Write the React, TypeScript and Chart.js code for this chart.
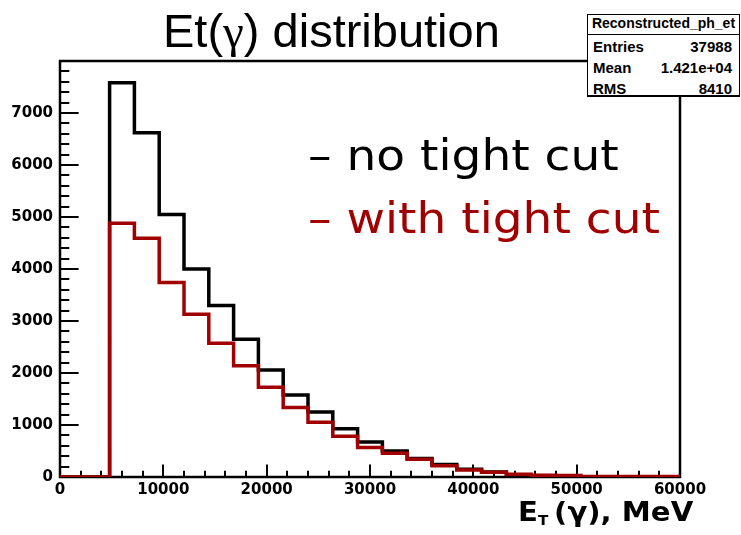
import React, { useEffect, useRef } from 'react';
import { Chart, registerables } from 'chart.js';

Chart.register(...registerables);

// ---- data ----
const binStarts = [0, 2400, 4800, 7200, 9600, 12000, 14400, 16800, 19200, 21600, 24000, 26400, 28800, 31200, 33600, 36000, 38400, 40800, 43200, 45600, 48000, 50400, 52800, 55200, 57600];
const xEnd = 60000;
const noTightCut = [0, 0, 7580, 6620, 5050, 4000, 3300, 2650, 2060, 1575, 1250, 930, 675, 500, 355, 240, 150, 95, 45, 20, 12, 0, 0, 0, 0];
const withTightCut = [0, 0, 4880, 4590, 3740, 3130, 2570, 2140, 1725, 1335, 1055, 785, 565, 455, 340, 215, 135, 90, 55, 35, 30, 12, 10, 10, 8];
const xTickLabels = [0, 10000, 20000, 30000, 40000, 50000, 60000];
const yTickLabels = [0, 1000, 2000, 3000, 4000, 5000, 6000, 7000];
const X_MIN = 0, X_MAX = 60000, Y_MIN = 0, Y_MAX = 8000;
const X_MINOR = 2000, X_MAJOR = 10000, Y_MINOR = 200, Y_MAJOR = 1000;
const titleText = ['Et(', 'γ', ') distribution'];
const legendLabels = ['– no tight cut', '– with tight cut'];
const statsName = 'Reconstructed_ph_et';
const statsRows = [['Entries', '37988'], ['Mean', '1.421e+04'], ['RMS', '8410']];

const BLACK = '#000000';
const RED = '#a00000';

function histPoints(vals: number[]) {
  const pts = binStarts.map((x, i) => ({ x, y: vals[i] }));
  pts.push({ x: xEnd, y: vals[vals.length - 1] });
  return pts;
}

const framePlugin = {
  id: 'rootFrame',
  beforeDatasetsDraw(chart: any) {
    const { ctx, chartArea: a, scales } = chart;
    const x = scales.x, y = scales.y;
    ctx.save();
    ctx.strokeStyle = '#000';
    ctx.lineWidth = 2;
    const yMajorLen = (a.right - a.left) * 0.03;
    const xMajorLen = (a.bottom - a.top) * 0.03;
    ctx.beginPath();
    for (let v = Y_MIN; v <= Y_MAX; v += Y_MINOR) {
      const py = Math.round(y.getPixelForValue(v));
      const len = v % Y_MAJOR === 0 ? yMajorLen : yMajorLen / 2;
      ctx.moveTo(a.left, py);
      ctx.lineTo(a.left + len, py);
    }
    for (let v = X_MIN; v <= X_MAX; v += X_MINOR) {
      const px = Math.round(x.getPixelForValue(v));
      const len = v % X_MAJOR === 0 ? xMajorLen : xMajorLen / 2;
      ctx.moveTo(px, a.bottom);
      ctx.lineTo(px, a.bottom - len);
    }
    ctx.stroke();
    ctx.lineWidth = 2.5;
    ctx.strokeRect(a.left, a.top, a.right - a.left, a.bottom - a.top);
    ctx.restore();
  },
};

function Txt(props: { left?: number; right?: number; baseline: number; fs: number; family: string; weight?: string; color?: string; scaleX?: number; children: any; align?: string }) {
  const { left, right, baseline, fs, family, weight, color, scaleX, children, align } = props;
  const style: any = {
    position: 'absolute',
    top: baseline - 0.8465 * fs,
    fontSize: fs,
    lineHeight: fs + 'px',
    fontFamily: family,
    fontWeight: weight || 'normal',
    color: color || '#000',
    whiteSpace: 'nowrap',
    textAlign: align || 'left',
  };
  if (left !== undefined) style.left = left;
  if (right !== undefined) style.right = right;
  if (scaleX) {
    style.transform = `scaleX(${scaleX})`;
    style.transformOrigin = right !== undefined ? 'right' : 'left';
  }
  return <div style={style}>{children}</div>;
}

export default function App() {
  const ref = useRef<HTMLCanvasElement>(null);

  useEffect(() => {
    const tickFont = { family: 'DejaVu Sans', weight: 'bold' as const, size: 15 };
    const chart = new Chart(ref.current!, {
      type: 'line',
      data: {
        datasets: [
          {
            label: legendLabels[1],
            data: histPoints(withTightCut),
            borderColor: RED,
            borderWidth: 3.5,
            pointRadius: 0,
            stepped: true,
            fill: false,
            borderJoinStyle: 'miter',
          },
          {
            label: legendLabels[0],
            data: histPoints(noTightCut),
            borderColor: BLACK,
            borderWidth: 3.5,
            pointRadius: 0,
            stepped: true,
            fill: false,
            borderJoinStyle: 'miter',
          },
        ],
      },
      options: {
        responsive: false,
        animation: false,
        layout: { padding: { left: 0, top: 61, right: 61, bottom: 0 } },
        plugins: { legend: { display: false }, tooltip: { enabled: false }, title: { display: false } },
        scales: {
          x: {
            type: 'linear',
            min: X_MIN,
            max: X_MAX,
            grid: { display: false, drawTicks: false },
            border: { display: false },
            ticks: {
              stepSize: X_MAJOR,
              autoSkip: false,
              maxRotation: 0,
              padding: 4,
              color: '#000',
              font: tickFont,
              callback: (v: any) => (xTickLabels.includes(Number(v)) ? String(v) : ''),
            },
            afterFit: (s: any) => { s.height = 58; },
          },
          y: {
            type: 'linear',
            min: Y_MIN,
            max: Y_MAX,
            grid: { display: false, drawTicks: false },
            border: { display: false },
            ticks: {
              stepSize: Y_MAJOR,
              autoSkip: false,
              padding: 7,
              color: '#000',
              font: tickFont,
              callback: (v: any) => (yTickLabels.includes(Number(v)) ? String(v) : ''),
            },
            afterFit: (s: any) => { s.width = 60; },
          },
        },
      },
      plugins: [framePlugin],
    } as any);
    return () => chart.destroy();
  }, []);

  return (
    <div style={{ position: 'absolute', left: 0, top: 0, width: 741, height: 535, background: '#fff', overflow: 'hidden' }}>
      <canvas ref={ref} width={741} height={535} style={{ position: 'absolute', left: 0, top: 0 }} />
      <Txt left={163} baseline={47} fs={47} family="'Liberation Sans', Arial, sans-serif">
        {titleText[0]}<span style={{ fontFamily: "'Liberation Serif', serif" }}>{titleText[1]}</span>{titleText[2]}
      </Txt>
      <div style={{ position: 'absolute', left: 587, top: 14, width: 153, height: 83, background: '#fff', border: '1px solid #000', borderBottomWidth: 2, boxSizing: 'border-box' }} />
      <div style={{ position: 'absolute', left: 587, top: 34, width: 153, height: 1, background: '#000' }} />
      <Txt left={587} baseline={28} fs={14} family="'Liberation Sans', Arial, sans-serif" weight="bold">
        <div style={{ width: 153, textAlign: 'center' }}>{statsName}</div>
      </Txt>
      {statsRows.map((r, i) => (
        <React.Fragment key={r[0]}>
          <Txt left={593} baseline={52 + i * 20.8} fs={15} family="'Liberation Sans', Arial, sans-serif" weight="bold">{r[0]}</Txt>
          <Txt right={741 - 732} baseline={52 + i * 20.8} fs={15} family="'Liberation Sans', Arial, sans-serif" weight="bold">{r[1]}</Txt>
        </React.Fragment>
      ))}
      <Txt left={308} baseline={171} fs={42} family="'DejaVu Sans', sans-serif" color={BLACK} scaleX={1.12}>{legendLabels[0]}</Txt>
      <Txt left={308} baseline={233.5} fs={42} family="'DejaVu Sans', sans-serif" color={RED} scaleX={1.12}>{legendLabels[1]}</Txt>
      <Txt left={518} baseline={521} fs={27} family="'DejaVu Sans', sans-serif" weight="bold" scaleX={1.08}>
        E<span style={{ fontSize: 14, verticalAlign: -4, marginRight: -4 }}>T</span> (γ), MeV
      </Txt>
    </div>
  );
}
